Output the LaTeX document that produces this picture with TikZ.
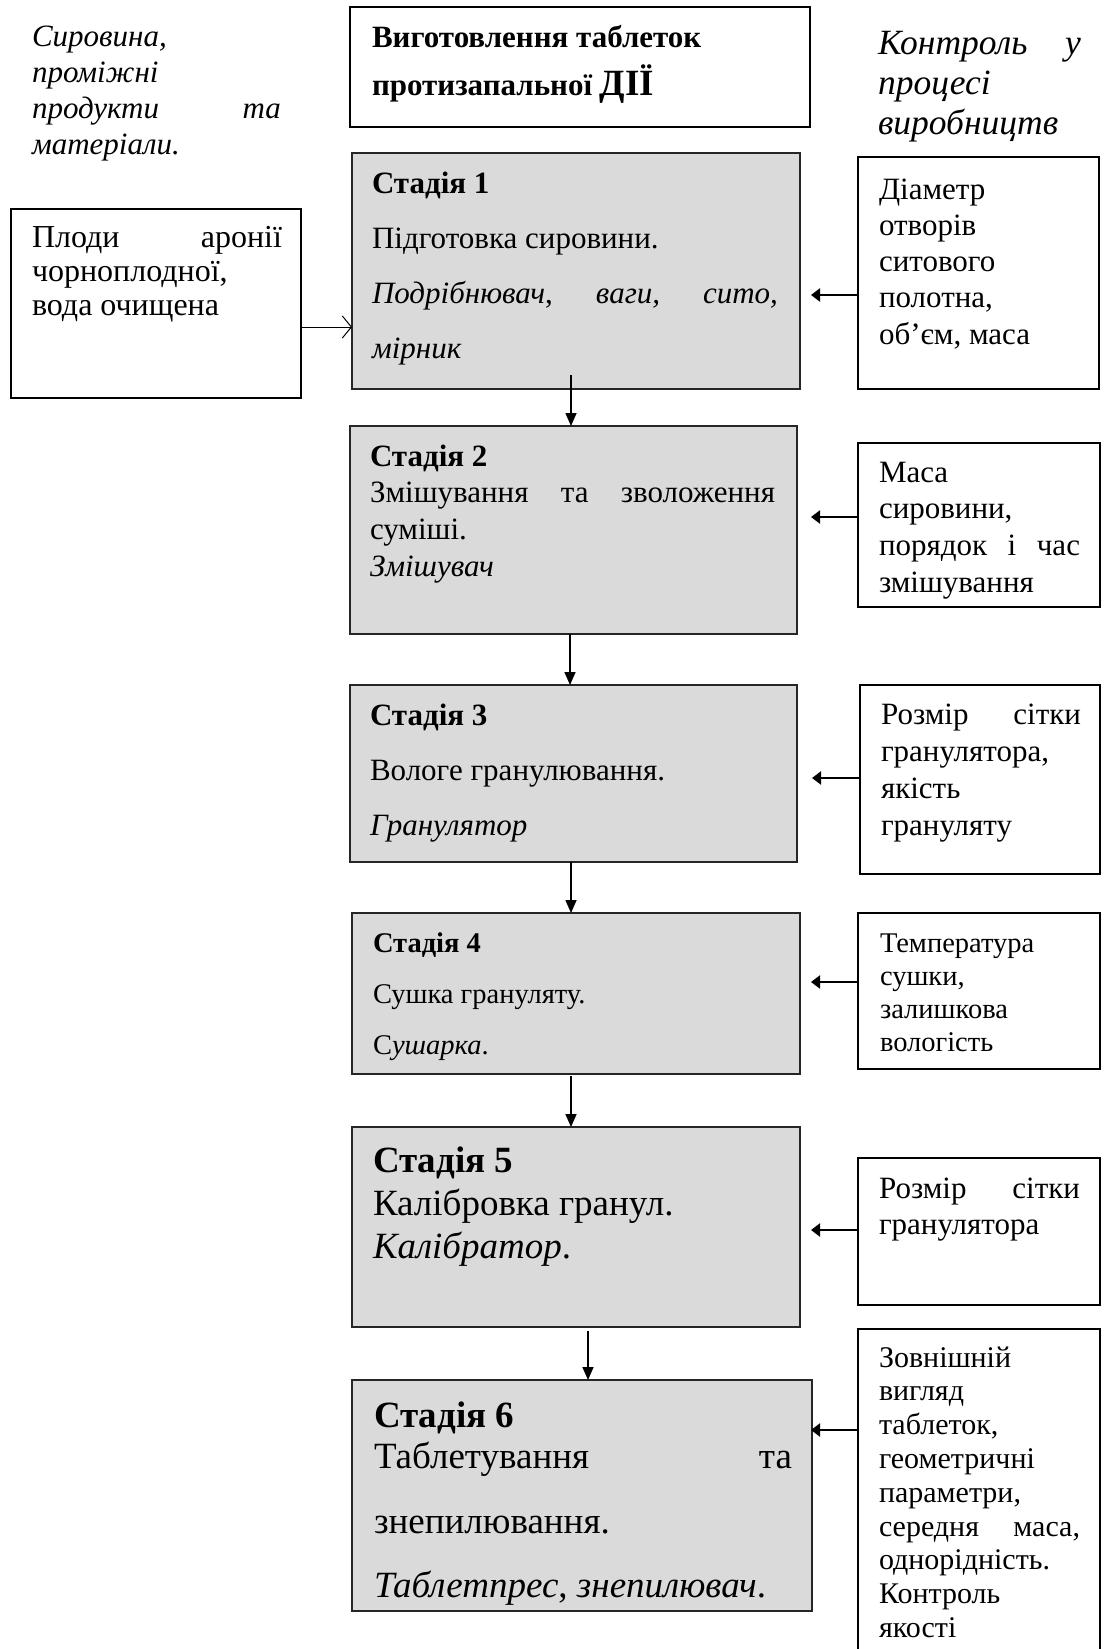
\documentclass[tikz,border=0pt]{standalone}
\usepackage{fontspec}
\setmainfont{Liberation Serif}
\usetikzlibrary{arrows.meta}
\definecolor{stagegray}{HTML}{DADADA}
\newcommand{\txtblock}[4]{\vtop{\hsize=#1pt\fontsize{#2}{#3}\selectfont\parindent=0pt\raggedright #4\par}}
\tikzset{
  box/.style={draw=black, line width=1.4pt, fill=white, inner sep=0pt, outer sep=0pt},
  stagebox/.style={draw=black!85, line width=2pt, fill=stagegray, inner sep=0pt, outer sep=0pt},
  txt/.style={inner sep=0pt, outer sep=0pt, anchor=base west},
  flow/.style={line width=1.6pt, -{Triangle[length=13pt,width=11pt]}},
  ctrl/.style={line width=2.8pt, -{Triangle[length=9pt,width=13pt]}},
  feed/.style={line width=1pt, -{Straight Barb[length=9pt,width=22pt,line width=1pt]}}
}
\begin{document}
\begin{tikzpicture}[x=1pt,y=-1pt]
\clip (0,0) rectangle (1103,1649);
\fill[white] (0,0) rectangle (1103,1649);

% boxes
\node[box, minimum width=460pt, minimum height=120pt, anchor=north west] (title) at (350,7) {};
\node[stagebox, minimum width=448pt, minimum height=236pt, anchor=north west] (s1) at (352,153) {};
\node[box, minimum width=290pt, minimum height=189pt, anchor=north west] (in) at (11,209) {};
\node[box, minimum width=241pt, minimum height=232pt, anchor=north west] (c1) at (858,157) {};
\node[stagebox, minimum width=447pt, minimum height=208pt, anchor=north west] (s2) at (350,426) {};
\node[box, minimum width=242pt, minimum height=164pt, anchor=north west] (c2) at (858,443) {};
\node[stagebox, minimum width=447pt, minimum height=177pt, anchor=north west] (s3) at (350,685) {};
\node[box, minimum width=240pt, minimum height=189pt, anchor=north west] (c3) at (860,685) {};
\node[stagebox, minimum width=448pt, minimum height=161pt, anchor=north west] (s4) at (352,913) {};
\node[box, minimum width=242pt, minimum height=156pt, anchor=north west] (c4) at (858,913) {};
\node[stagebox, minimum width=448pt, minimum height=200pt, anchor=north west] (s5) at (352,1127) {};
\node[box, minimum width=242pt, minimum height=147pt, anchor=north west] (c5) at (858,1158) {};
\node[stagebox, minimum width=460pt, minimum height=231pt, anchor=north west] (s6) at (352,1380) {};
\node[box, minimum width=242pt, minimum height=340pt, anchor=north west] (c6) at (858,1329) {};

% texts
\node[txt] (lh) at (32,46) {\txtblock{249}{31}{36.3}{\itshape Сировина,\\проміжні\\продукти\hfill та\\матеріали.}};
\node[txt] (rh) at (878,54) {\txtblock{203}{35.5}{40}{\itshape Контроль\hfill у\\процесі\\виробництв}};
\node[txt] (tt) at (372,47) {\txtblock{440}{31}{48}{\bfseries Виготовлення таблеток\\протизапальної {\fontsize{37}{40}\selectfont ДІЇ}}};
\node[txt] (int) at (32,247) {\txtblock{250}{32}{34}{Плоди\hfill аронії\\чорноплодної,\\вода очищена}};
\node[txt] (s1t) at (372,193) {\txtblock{406}{31}{55}{\textbf{Стадія 1}\\Підготовка сировини.\\\textit{Подрібнювач},\hfill\textit{ваги,}\hfill\textit{сито,}\\\textit{мірник}}};
\node[txt] (c1t) at (879,199) {\txtblock{210}{31}{36.3}{Діаметр\\отворів\\ситового\\полотна,\\об’єм, маса}};
\node[txt] (s2t) at (370,466) {\txtblock{405}{31}{36.7}{\textbf{Стадія 2}\\Змішування\hfill та\hfill зволоження\\суміші.\\\textit{Змішувач}}};
\node[txt] (c2t) at (879,482) {\txtblock{201}{31}{36.7}{Маса\\сировини,\\порядок\hfill і\hfill час\\змішування}};
\node[txt] (s3t) at (370,725) {\txtblock{410}{31}{55}{\textbf{Стадія 3}\\Вологе гранулювання.\\\textit{Гранулятор}}};
\node[txt] (c3t) at (881,724) {\txtblock{200}{31}{37}{Розмір\hfill сітки\\гранулятора,\\якість\\грануляту}};
\node[txt] (s4t) at (373,952) {\txtblock{400}{28.5}{51}{\textbf{Стадія 4}\\Сушка грануляту.\\С\textit{ушарка}.}};
\node[txt] (c4t) at (880,952) {\txtblock{210}{28.5}{33.3}{Температура\\сушки,\\залишкова\\вологість}};
\node[txt] (s5t) at (373,1172) {\txtblock{410}{37}{43}{\textbf{Стадія 5}\\Калібровка гранул.\\\textit{Калібратор}.}};
\node[txt] (c5t) at (879,1198) {\txtblock{201}{31}{36}{Розмір\hfill сітки\\гранулятора}};
\node[txt] (s6t) at (374,1427) {\txtblock{418}{37}{41}{\textbf{Стадія 6}\\Таблетування\hfill та\\[24pt]знепилювання.\\[23pt]\textit{Таблетпрес}, \textit{знепилювач}.}};
\node[txt] (c6t) at (879,1367) {\txtblock{201}{30}{33.8}{Зовнішній\\вигляд\\таблеток,\\геометричні\\параметри,\\середня\hfill маса,\\однорідність.\\Контроль\\якості}};

% feed arrow
\coordinate (fa) at (330,327);
\draw[feed] (fa -| in.east) -- (fa -| s1.west);

% flow arrows
\coordinate (d1) at (571,375);
\draw[flow] (d1) -- (d1 |- s2.north);
\coordinate (d2) at (570,0);
\draw[flow] (d2 |- s2.south) -- (d2 |- s3.north);
\coordinate (d3) at (571,0);
\draw[flow] (d3 |- s3.south) -- (d3 |- s4.north);
\coordinate (d4) at (571,1076);
\draw[flow] (d4) -- (d4 |- s5.north);
\coordinate (d5) at (588,1331);
\draw[flow] (d5) -- (d5 |- s6.north);

% control arrows
\coordinate (a1) at (811,295);
\draw[ctrl] (a1 -| c1.west) -- (a1);
\coordinate (a2) at (811,517);
\draw[ctrl] (a2 -| c2.west) -- (a2);
\coordinate (a3) at (812,778);
\draw[ctrl] (a3 -| c3.west) -- (a3);
\coordinate (a4) at (811,982);
\draw[ctrl] (a4 -| c4.west) -- (a4);
\coordinate (a5) at (811,1230);
\draw[ctrl] (a5 -| c5.west) -- (a5);
\coordinate (a6) at (811,1430);
\draw[ctrl] (a6 -| c6.west) -- (a6);
\end{tikzpicture}
\end{document}
